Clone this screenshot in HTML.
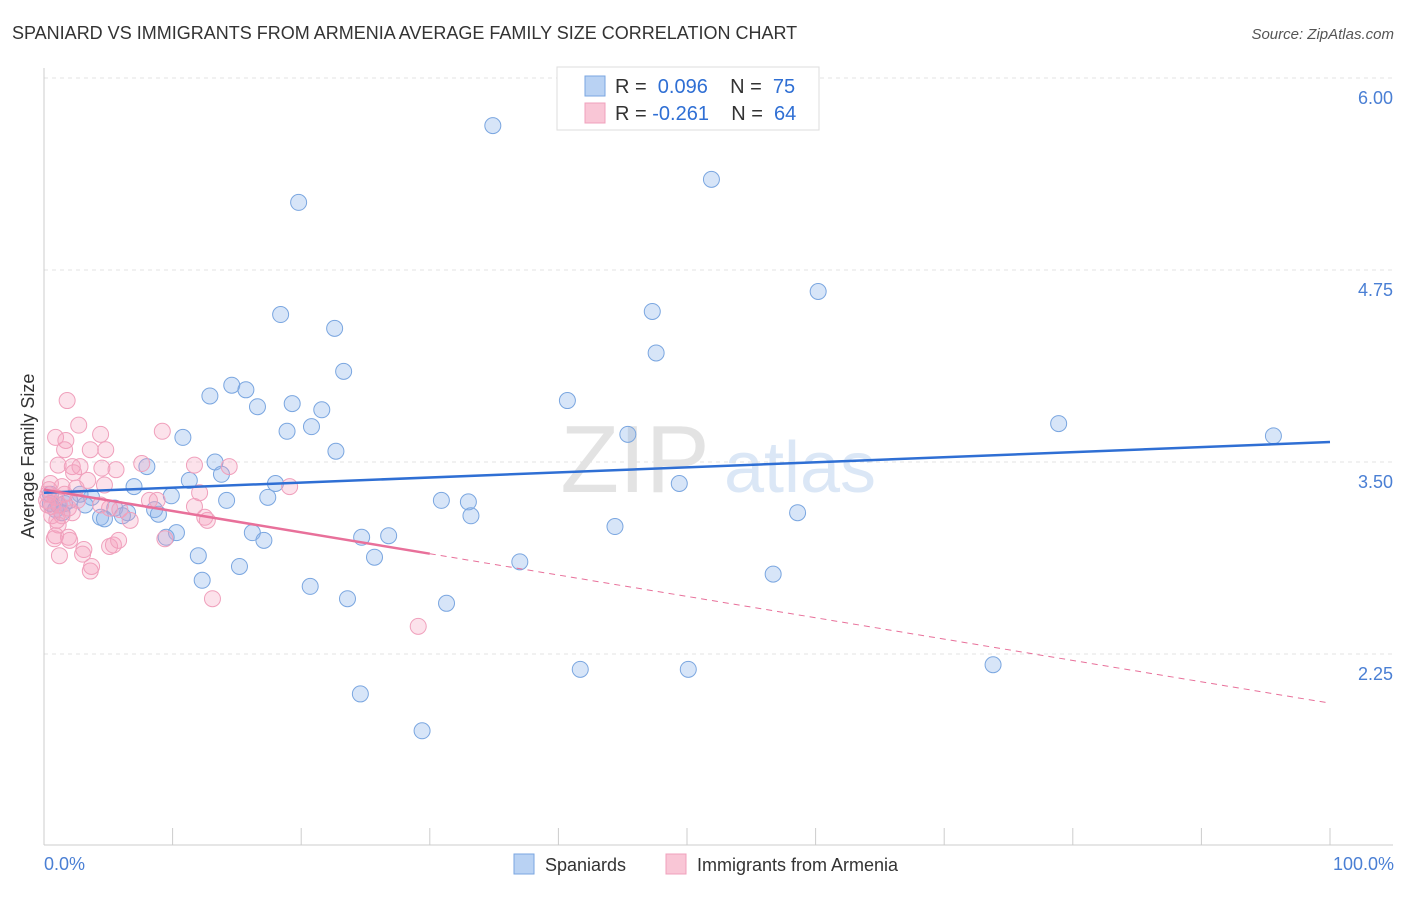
<!DOCTYPE html>
<html><head><meta charset="utf-8"><style>
body{margin:0;background:#fff;font-family:"Liberation Sans",sans-serif;}
svg text{font-family:"Liberation Sans",sans-serif;}
</style></head><body>
<svg id="chart" width="1406" height="892" viewBox="0 0 1406 892" xmlns="http://www.w3.org/2000/svg">
<text x="12" y="39" font-size="18" fill="#333">SPANIARD VS IMMIGRANTS FROM ARMENIA AVERAGE FAMILY SIZE CORRELATION CHART</text>
<text x="1394" y="39" font-size="15" fill="#555" text-anchor="end" font-style="italic">Source: ZipAtlas.com</text>
<text x="635" y="492" font-size="96" fill="#e3e3e3" font-family="Liberation Serif" text-anchor="middle">ZIP</text>
<text x="800" y="492" font-size="72" fill="#dbe7f6" text-anchor="middle">atlas</text>
<g id="grid"></g><g id="axes"></g><g id="pts"></g><g id="lines"></g>
<text transform="translate(34,456) rotate(-90)" font-size="18" fill="#333" text-anchor="middle">Average Family Size</text>
<text x="44" y="870" font-size="18" fill="#4a7fd4">0.0%</text>
<text x="1394" y="870" font-size="18" fill="#4a7fd4" text-anchor="end">100.0%</text>
<g>
<rect x="557" y="67" width="262" height="63" fill="#fff" stroke="#ddd"/>
<rect x="585" y="76" width="20" height="20" fill="#b9d2f3" stroke="#7aa6e0"/>
<rect x="585" y="103" width="20" height="20" fill="#f9c6d6" stroke="#f0a0bc"/>
<text x="615" y="93" font-size="20" fill="#333" xml:space="preserve">R =  <tspan fill="#2f6fd4">0.096</tspan>    N =  <tspan fill="#2f6fd4">75</tspan></text>
<text x="615" y="120" font-size="20" fill="#333" xml:space="preserve">R = <tspan fill="#2f6fd4">-0.261</tspan>    N =  <tspan fill="#2f6fd4">64</tspan></text>
</g>
<g>
<rect x="514" y="854" width="20" height="20" fill="#b9d2f3" stroke="#7aa6e0"/>
<text x="545" y="871" font-size="18" fill="#333">Spaniards</text>
<rect x="666" y="854" width="20" height="20" fill="#f9c6d6" stroke="#f0a0bc"/>
<text x="697" y="871" font-size="18" fill="#333">Immigrants from Armenia</text>
</g>
</svg>
<script>
const yTicks=[2.25,3.50,4.75,6.00];
const yTickLabels=["2.25","3.50","4.75","6.00"];
const blueX=[34.9,51.9,19.8,60.2,18.4,47.3,22.6,47.6,23.3,14.6,15.7,12.9,40.7,19.3,16.6,21.6,78.9,20.8,18.9,10.8,45.4,95.6,22.7,8.0,13.3,13.8,11.3,18.0,49.4,7.0,9.9,17.4,14.2,30.9,33.0,3.7,2.8,1.6,1.1,0.5,5.5,6.5,8.6,8.9,33.2,58.6,4.4,6.1,4.7,44.4,10.3,16.2,9.5,17.1,24.7,26.8,25.7,12.0,37.0,15.2,56.7,12.3,20.7,23.6,31.3,41.7,50.1,73.8,24.6,29.4,0.5,0.9,2.0,3.2,1.4];
const blueY=[5.69,5.34,5.19,4.61,4.46,4.48,4.37,4.21,4.09,4.00,3.97,3.93,3.90,3.88,3.86,3.84,3.75,3.73,3.70,3.66,3.68,3.67,3.57,3.47,3.50,3.42,3.38,3.36,3.36,3.34,3.28,3.27,3.25,3.25,3.24,3.27,3.29,3.23,3.22,3.23,3.20,3.17,3.19,3.16,3.15,3.17,3.14,3.15,3.13,3.08,3.04,3.04,3.01,2.99,3.01,3.02,2.88,2.89,2.85,2.82,2.77,2.73,2.69,2.61,2.58,2.15,2.15,2.18,1.99,1.75,3.29,3.19,3.25,3.22,3.17];
const pinkX=[1.8,2.7,0.9,1.7,4.4,1.6,3.6,4.8,9.2,1.1,2.2,2.8,4.5,5.6,7.6,11.7,14.4,2.3,0.5,1.4,2.5,4.7,19.1,8.8,12.1,0.3,0.9,0.6,1.9,1.4,11.7,12.7,12.5,5.1,1.1,0.9,1.9,0.8,2.0,9.4,3.1,5.1,5.4,3.0,1.2,5.8,3.6,3.7,13.1,29.1,0.3,0.6,1.2,2.2,0.2,1.6,2.6,3.4,4.4,6.7,8.2,5.9,1.0,0.4];
const pinkY=[3.90,3.74,3.66,3.64,3.68,3.58,3.58,3.58,3.70,3.48,3.47,3.47,3.46,3.45,3.49,3.48,3.47,3.43,3.36,3.34,3.33,3.35,3.34,3.25,3.30,3.29,3.27,3.21,3.20,3.15,3.21,3.12,3.14,3.20,3.09,3.02,3.01,3.00,2.99,3.00,2.93,2.95,2.96,2.90,2.89,2.99,2.79,2.82,2.61,2.43,3.22,3.15,3.22,3.17,3.25,3.29,3.25,3.38,3.22,3.12,3.25,3.19,3.12,3.32];
const blueFit=[3.30,3.63];
const pinkFit=[3.32,1.93];
const pinkSolidEnd=30;

const X0=44,X1=1330,Yref=462,PPU=153.6;
const xs=p=>X0+(X1-X0)*p/100;
const ys=v=>Yref-(v-3.5)*PPU;
const NS="http://www.w3.org/2000/svg";
function mk(tag,attrs,parent){const e=document.createElementNS(NS,tag);for(const k in attrs)e.setAttribute(k,attrs[k]);parent.appendChild(e);return e;}
const grid=document.getElementById('grid'),axes=document.getElementById('axes'),pts=document.getElementById('pts'),lines=document.getElementById('lines');
yTicks.forEach((t,i)=>{
  const l=mk('line',{x1:44,x2:1393,y1:ys(t),y2:ys(t),stroke:'#e3e3e3','stroke-dasharray':'4,4'},grid);
  
  
  const tx=mk('text',{x:1393,y:ys(t)+26,'font-size':18,fill:'#4a7fd4','text-anchor':'end'},grid);
  tx.textContent=yTickLabels[i];
  
  
});
const ya=mk('line',{x1:44,x2:44,y1:68,y2:845,stroke:'#ccc'},axes);


const xa=mk('line',{x1:44,x2:1393,y1:845,y2:845,stroke:'#ccc'},axes);


for(let i=0;i<=10;i++){
  const t=mk('line',{x1:xs(i*10),x2:xs(i*10),y1:828,y2:845,stroke:'#ccc'},axes);
  
  
}
blueX.forEach((x,i)=>{
  const c=mk('circle',{cx:xs(x),cy:ys(blueY[i]),r:8,fill:'rgba(140,180,235,0.35)',stroke:'#7aa6e0','stroke-width':1},pts);
  
  
});
pinkX.forEach((x,i)=>{
  const c=mk('circle',{cx:xs(x),cy:ys(pinkY[i]),r:8,fill:'rgba(245,160,190,0.3)',stroke:'#f0a0bc','stroke-width':1},pts);
  
  
});
const bl=mk('line',{x1:xs(0),y1:ys(blueFit[0]),x2:xs(100),y2:ys(blueFit[1]),stroke:'#2f6fd4','stroke-width':2.5},lines);


const pAt=p=>pinkFit[0]+(pinkFit[1]-pinkFit[0])*p/100;
const pl=mk('line',{x1:xs(0),y1:ys(pinkFit[0]),x2:xs(pinkSolidEnd),y2:ys(pAt(pinkSolidEnd)),stroke:'#e8709a','stroke-width':2.5},lines);


const pd=mk('line',{x1:xs(pinkSolidEnd),y1:ys(pAt(pinkSolidEnd)),x2:xs(100),y2:ys(pinkFit[1]),stroke:'#e8709a','stroke-width':1,'stroke-dasharray':'6,5'},lines);


</script>
</body></html>
